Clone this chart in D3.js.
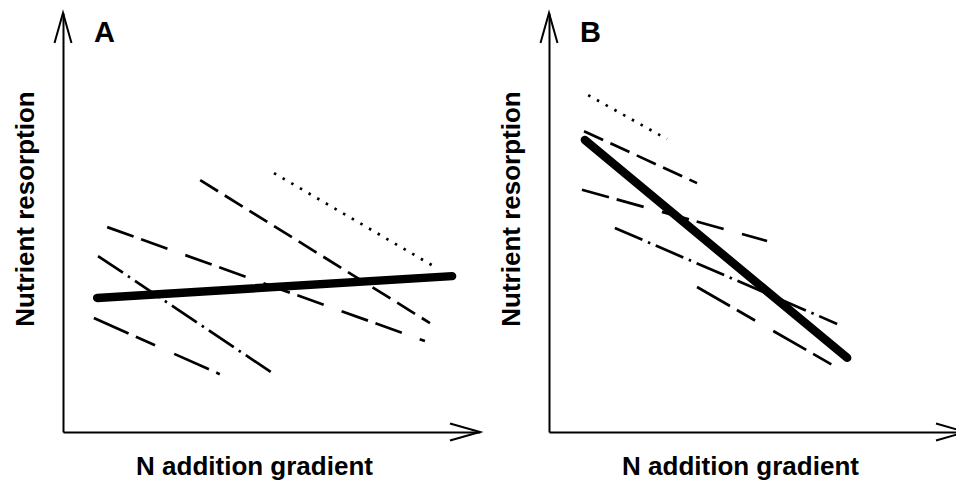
<!DOCTYPE html>
<meta charset="utf-8">
<title>N addition and nutrient resorption</title>
<style>
  body { margin: 0; background: #fff; }
  svg { display: block; }
  .axis path { stroke: #000; stroke-width: 2px; }
  .arrow { fill: none; stroke: #000; stroke-width: 2px; }
  .trend { fill: none; stroke: #000; }
  text { font-family: "Liberation Sans", Arial, sans-serif; font-weight: bold; fill: #000; }
</style>
<svg width="956" height="481"></svg>
<script src="https://cdn.jsdelivr.net/npm/d3@7"></script>
<script>
  // conceptual values, 0-100 on both axes
  var panels = ["A", "B"];
  var xTitle = "N addition gradient";
  var yTitle = "Nutrient resorption";
  var series = ["overall", "group1", "group2", "group3", "group4", "group5"];

  // [x, y] at the start and end of each trend line
  var startA = [[8.2, 32.0], [50.6, 61.8], [32.9, 60.1], [10.6, 48.9], [8.4, 42.0], [7.4, 27.2]];
  var endA = [[93.3, 37.2], [89.7, 39.1], [88.0, 26.0], [86.8, 21.7], [50.6, 13.8], [37.6, 13.8]];
  var startB = [[8.6, 69.7], [9.4, 80.4], [8.4, 71.8], [7.9, 57.8], [15.8, 48.7], [35.5, 34.6]];
  var endB = [[71.5, 17.7], [28.3, 69.9], [35.5, 59.4], [52.3, 45.6], [69.1, 25.8], [68.8, 15.5]];

  var svg = d3.select("svg");

  var dash = {
    overall: null,
    group1: "2.5,7.5",
    group2: "21,8",
    group3: "28,8,28,19",
    group4: "30,6,2.5,6",
    group5: "38,8,21,21"
  };

  var line = d3.line()
    .x(function(d) { return d.x; })
    .y(function(d) { return d.y; });

  function drawPanel(name, left, starts, ends) {
    var x = d3.scaleLinear().domain([0, 100]).range([left, left + 417]),
      y = d3.scaleLinear().domain([0, 100]).range([432, 13]);

    var g = svg.append("g");

    g.append("g")
      .attr("class", "axis")
      .attr("transform", "translate(0,432)")
      .call(d3.axisBottom(x).tickValues([]).tickSizeOuter(0));

    g.append("g")
      .attr("class", "axis")
      .attr("transform", "translate(" + left + ",0)")
      .call(d3.axisLeft(y).tickValues([]).tickSizeOuter(0));

    // open arrowheads
    var xe = x(100), yt = y(100);
    g.append("path").attr("class", "arrow")
      .attr("d", "M" + (xe - 30) + "," + (432 - 8.5) + "L" + xe + ",432L" + (xe - 30) + "," + (432 + 8.5));
    g.append("path").attr("class", "arrow")
      .attr("d", "M" + (left - 8.5) + "," + (yt + 30) + "L" + left + "," + yt + "L" + (left + 8.5) + "," + (yt + 30));

    g.selectAll(".trend")
      .data(series)
      .enter().append("path")
      .attr("class", "trend")
      .attr("stroke-width", function(d) { return d === "overall" ? 8.5 : 2.7; })
      .attr("stroke-linecap", function(d) { return d === "overall" ? "round" : "butt"; })
      .attr("stroke-dasharray", function(d) { return dash[d]; })
      .attr("d", function(d, i) {
        return line([
          { x: x(starts[i][0]), y: y(starts[i][1]) },
          { x: x(ends[i][0]), y: y(ends[i][1]) }
        ]);
      });

    g.append("text")
      .attr("x", left + 31)
      .attr("y", 42)
      .style("font-size", "29px")
      .text(name);

    g.append("text")
      .attr("x", (left + x(100)) / 2 - 17)
      .attr("y", 475)
      .attr("text-anchor", "middle")
      .style("font-size", "26px")
      .text(xTitle);

    g.append("text")
      .attr("transform", "translate(" + (left - 29) + ",209) rotate(-90)")
      .attr("text-anchor", "middle")
      .style("font-size", "26px")
      .text(yTitle);
  }

  drawPanel(panels[0], 63, startA, endA);
  drawPanel(panels[1], 549, startB, endB);
</script>
